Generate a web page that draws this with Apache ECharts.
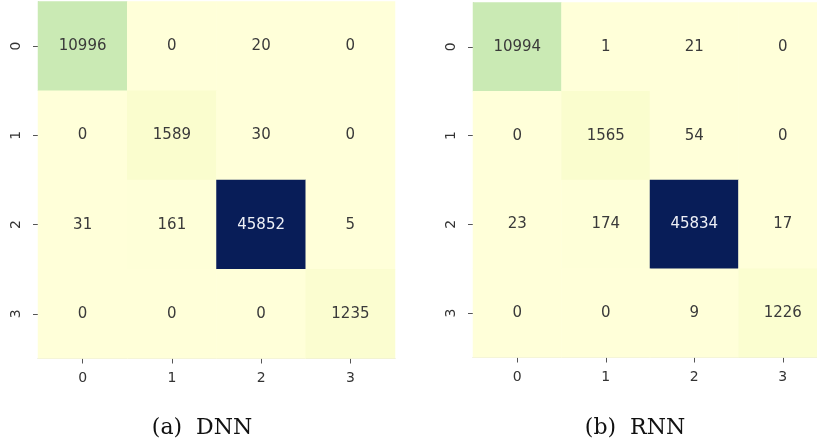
<!DOCTYPE html>
<html>
<head>
<meta charset="utf-8">
<script src="https://cdn.jsdelivr.net/npm/echarts@6/dist/echarts.min.js"></script>
<style>
  html, body { margin: 0; padding: 0; background: #fff; }
  #chart { width: 817px; height: 447px; }
</style>
</head>
<body>
<div id="chart"></div>
<script>
// Class labels shared by both confusion matrices
const classes = ['0', '1', '2', '3'];

// Confusion matrix rows (true class) x columns (predicted class)
const dnnMatrix = [
  [10996, 0, 20, 0],
  [0, 1589, 30, 0],
  [31, 161, 45852, 5],
  [0, 0, 0, 1235]
];
const rnnMatrix = [
  [10994, 1, 21, 0],
  [0, 1565, 54, 0],
  [23, 174, 45834, 17],
  [0, 0, 9, 1226]
];

const captions = ['(a)  DNN', '(b)  RNN'];

// YlGnBu colour ramp
const ylGnBu = ['#ffffd9', '#edf8b1', '#c7e9b4', '#7fcdbb', '#41b6c4',
                '#1d91c0', '#225ea8', '#253494', '#081d58'];

function toCells(matrix) {
  const maxVal = Math.max(...matrix.flat());
  const cells = [];
  matrix.forEach((row, r) => {
    row.forEach((v, c) => {
      cells.push({
        value: [c, r, v],
        label: { color: v > maxVal / 2 ? '#eef0f6' : '#3a3a3a' }
      });
    });
  });
  return cells;
}

// The second panel runs slightly past the right edge of the canvas
const grids = [
  { left: 38, top: 1.5, width: 357, height: 357, outerBoundsMode: 'none' },
  { left: 473, top: 2.5, width: 354, height: 355, outerBoundsMode: 'none' }
];

const tickLabelStyle = { color: '#333', fontSize: 14, fontFamily: 'DejaVu Sans' };

const chart = echarts.init(document.getElementById('chart'));
const mats = [dnnMatrix, rnnMatrix];

chart.setOption({
  animation: false,
  backgroundColor: '#ffffff',
  grid: grids,
  xAxis: mats.map((_, i) => ({
    type: 'category', gridIndex: i, data: classes,
    axisLine: { show: true, lineStyle: { color: '#d8d8d8', width: 1 } },
    axisTick: { show: true, alignWithLabel: true, length: 5, lineStyle: { color: '#555' } },
    axisLabel: Object.assign({ margin: 13 }, tickLabelStyle),
    splitLine: { show: false }
  })),
  yAxis: mats.map((_, i) => ({
    type: 'category', gridIndex: i, data: classes, inverse: true,
    axisLine: { show: true, lineStyle: { color: '#d8d8d8', width: 1 } },
    axisTick: { show: true, alignWithLabel: true, length: 5, lineStyle: { color: '#555' } },
    axisLabel: Object.assign({ margin: 15, rotate: 90 }, tickLabelStyle),
    splitLine: { show: false }
  })),
  visualMap: mats.map((m, i) => ({
    show: false, seriesIndex: i, dimension: 2,
    min: 0, max: Math.max(...m.flat()),
    inRange: { color: ylGnBu }
  })),
  series: mats.map((m, i) => ({
    type: 'heatmap', xAxisIndex: i, yAxisIndex: i,
    data: toCells(m),
    label: {
      show: true, fontSize: 15, fontFamily: 'DejaVu Sans',
      formatter: p => p.value[2]
    },
    itemStyle: { borderWidth: 0 },
    emphasis: { disabled: true }
  })),
  graphic: captions.map((t, i) => ({
    type: 'text',
    x: i === 0 ? 202 : 635,
    y: 428,
    style: {
      text: t, fill: '#111', font: '22px "DejaVu Serif", "Liberation Serif", serif',
      textAlign: 'center', textVerticalAlign: 'middle'
    }
  }))
});
</script>
</body>
</html>
